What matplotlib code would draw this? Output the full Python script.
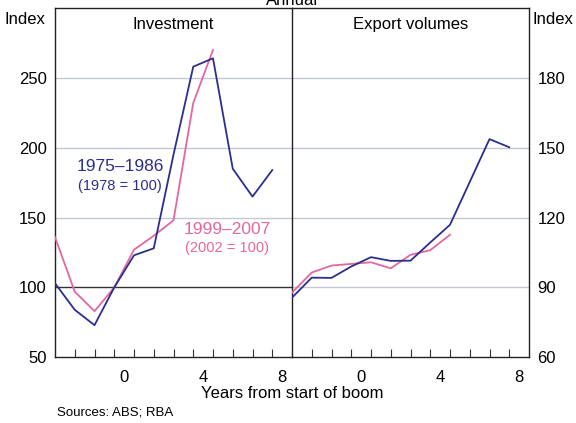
import matplotlib
matplotlib.use("Agg")
import matplotlib.pyplot as plt

plt.rcParams['font.family'] = ['Liberation Sans', 'DejaVu Sans']

# Data: years from start of boom
years_a = [-3, -2, -1, 0, 1, 2, 3, 4, 5, 6, 7, 8]
inv_a = [103, 84, 73, 100, 123, 128, 195, 258, 264, 185, 165, 184]
years_b = [-3, -2, -1, 0, 1, 2, 3, 4, 5]
inv_b = [136, 97, 83, 100, 127, 137, 148, 232, 270]

exp_a = [85.6, 94.2, 94.1, 99.0, 103.0, 101.4, 101.5, 109.3, 116.9, 135.3, 153.7, 150.2]
exp_b = [87.8, 96.4, 99.4, 100.1, 100.8, 98.2, 104.0, 106.0, 112.6]

left_ticks = [50, 100, 150, 200, 250]
right_ticks = [60, 90, 120, 150, 180]
xlabels = ['0', '4', '8']
xlabel_pos = [0.5, 4.5, 8.5]

BLUE = '#2b2e8e'
PINK = '#e4679f'
GRID = '#c4c8d0'

W, H = 576, 423
fig = plt.figure(figsize=(W / 100, H / 100), dpi=100)

x0, x1, x2 = 55, 292, 529
ytop, ybot = 8, 357.3

def px_axes(l, r):
    return fig.add_axes([l / W, (H - ybot) / H, (r - l) / W, (ybot - ytop) / H])

axL = px_axes(x0, x1)
axR = px_axes(x1, x2)

for ax in (axL, axR):
    ax.set_xlim(-3, 9)
    ax.set_xticks(range(-2, 9))
    ax.set_xticks(xlabel_pos, minor=True)
    ax.set_xticklabels([])
    ax.set_xticklabels(xlabels, minor=True)
    ax.tick_params(axis='x', which='major', direction='in', length=6, width=0.8, color='#333333')
    ax.tick_params(axis='x', which='minor', length=0, labelsize=12, pad=9)
    for s in ax.spines.values():
        s.set_linewidth(1.0)
        s.set_color('#222222')

# Left panel
axL.set_ylim(50, 300)
axL.set_yticks(left_ticks)
axL.set_yticklabels([str(v) for v in left_ticks])
axL.tick_params(axis='y', length=0, labelsize=12, pad=6)
for v in [150, 200, 250]:
    axL.axhline(v, color=GRID, lw=1.0, zorder=1)
axL.axhline(100, color='#333333', lw=1.0, zorder=1)
axL.plot(years_b, inv_b, color=PINK, lw=1.3, zorder=3)
axL.plot(years_a, inv_a, color=BLUE, lw=1.3, zorder=4)
axL.spines['right'].set_visible(False)
axL.set_title('Investment', fontsize=12, pad=-15, y=1.0)
axL.text(0.3, 186.6, '1975–1986', color=BLUE, fontsize=12.5, ha='center', va='center')
axL.text(0.3, 172.8, '(1978 = 100)', color=BLUE, fontsize=10.5, ha='center', va='center')
axL.text(5.73, 141.7, '1999–2007', color=PINK, fontsize=12.5, ha='center', va='center')
axL.text(5.73, 128, '(2002 = 100)', color=PINK, fontsize=10.5, ha='center', va='center')

# Right panel
axR.set_ylim(60, 210)
axR.set_yticks(right_ticks)
axR.set_yticklabels([str(v) for v in right_ticks])
axR.yaxis.tick_right()
axR.tick_params(axis='y', length=0, labelsize=12, pad=6)
for v in [90, 120, 150, 180]:
    axR.axhline(v, color=GRID, lw=1.0, zorder=1)
axR.plot(years_b, exp_b, color=PINK, lw=1.3, zorder=3)
axR.plot(years_a, exp_a, color=BLUE, lw=1.3, zorder=4)
axR.set_title('Export volumes', fontsize=12, pad=-15, y=1.0)

# Figure texts
fig.text(5 / W, 1 - 20 / H, 'Index', fontsize=12, ha='left', va='center')
fig.text(533 / W, 1 - 20 / H, 'Index', fontsize=12, ha='left', va='center')
fig.text(x1 / W, 1 - 5 / H, 'Annual', fontsize=12, ha='center', va='baseline')
fig.text(x1 / W, 1 - 393 / H, 'Years from start of boom', fontsize=12, ha='center', va='center')
fig.text(57 / W, 1 - 412 / H, 'Sources: ABS; RBA', fontsize=9.5, ha='left', va='center')

fig.savefig('out.png', dpi=100)
